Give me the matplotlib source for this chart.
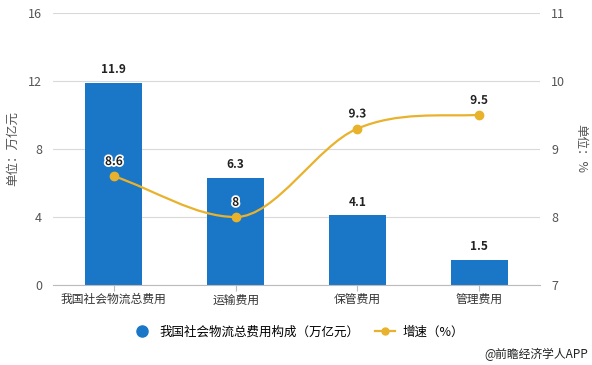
import numpy as np
import matplotlib.pyplot as plt
from matplotlib.path import Path
from matplotlib.patches import PathPatch
from matplotlib.lines import Line2D
import matplotlib.patheffects as pe

plt.rcParams['font.family'] = ['Noto Sans CJK SC', 'DejaVu Sans']

# 数据
categories = ['我国社会物流总费用', '运输费用', '保管费用', '管理费用']
cost = [11.9, 6.3, 4.1, 1.5]
growth = [8.6, 8.0, 9.3, 9.5]
growth_labels = ['8.6', '8', '9.3', '9.5']

bar_color = '#1a76c6'
line_color = '#e9b22c'
grid_color = '#d9d9d9'
tick_color = '#555555'

fig = plt.figure(figsize=(5.92, 3.65), dpi=100)
ax = fig.add_axes([53 / 592, 1 - 285 / 365, 487 / 592, 272 / 365])
ax2 = ax.twinx()

x = np.arange(len(categories))
ax.bar(x, cost, width=0.47, color=bar_color, zorder=2)
for xi, v in zip(x, cost):
    ax.text(xi, v + 0.4, f'{v}', ha='center', va='bottom', fontsize=8.5,
            fontweight='bold', color='#222222')

ax.set_xlim(-0.5, 3.5)
ax.set_ylim(0, 16)
ax.set_yticks([0, 4, 8, 12, 16])
ax.grid(axis='y', color=grid_color, linewidth=0.8, zorder=0)
ax.set_axisbelow(True)
ax.set_xticks(x)
ax.set_xticklabels(categories, fontsize=8.5, color='#333333')
ax.tick_params(axis='x', length=4, color='#bbbbbb', pad=2)
ax.tick_params(axis='y', length=0, labelsize=9, labelcolor=tick_color, pad=8)
for s in ['top', 'right', 'left']:
    ax.spines[s].set_visible(False)
ax.spines['bottom'].set_color('#bbbbbb')
ax.set_ylabel('单位：万亿元', fontsize=9, color=tick_color, labelpad=6)

ax2.set_ylim(7, 11)
ax2.set_yticks([7, 8, 9, 10, 11])
ax2.tick_params(axis='y', length=0, labelsize=9, labelcolor=tick_color, pad=8)
for s in ax2.spines.values():
    s.set_visible(False)
ax2.set_ylabel('单位：%', fontsize=9, color=tick_color, rotation=270, labelpad=16)

# 平滑曲线（三次贝塞尔，切线取相邻点差）
xs = x.astype(float)
ys = np.array(growth)
n = len(xs)
m = np.zeros(n)
for i in range(n):
    if i == 0:
        m[i] = (ys[1] - ys[0]) / (xs[1] - xs[0])
    elif i == n - 1:
        m[i] = 0.3 * (ys[i] - ys[i - 1]) / (xs[i] - xs[i - 1])
    elif (ys[i] - ys[i - 1]) * (ys[i + 1] - ys[i]) <= 0:
        m[i] = 0.0
    else:
        m[i] = (ys[i + 1] - ys[i - 1]) / (xs[i + 1] - xs[i - 1])
verts = [(xs[0], ys[0])]
codes = [Path.MOVETO]
for i in range(n - 1):
    h = (xs[i + 1] - xs[i]) / 3
    verts += [(xs[i] + h, ys[i] + m[i] * h),
              (xs[i + 1] - h, ys[i + 1] - m[i + 1] * h),
              (xs[i + 1], ys[i + 1])]
    codes += [Path.CURVE4] * 3
ax2.add_patch(PathPatch(Path(verts, codes), fill=False, edgecolor=line_color,
                        linewidth=1.6, zorder=3))
ax2.plot(xs, ys, 'o', color=line_color, markersize=6, zorder=4)
for xi, v, lab in zip(xs, ys, growth_labels):
    ax2.text(xi, v + 0.12, lab, ha='center', va='bottom', fontsize=8.5,
             fontweight='bold', color='#222222', zorder=5,
             path_effects=[pe.withStroke(linewidth=2.5, foreground='white')])

# 图例
handles = [
    Line2D([], [], marker='o', linestyle='none', color=bar_color, markersize=8),
    Line2D([], [], marker='o', linestyle='-', color=line_color, markersize=5, linewidth=1.6),
]
fig.legend(handles, ['我国社会物流总费用构成（万亿元）', '增速（%）'],
           loc='center', bbox_to_anchor=(298 / 592, 1 - 332 / 365), ncol=2,
           frameon=False, fontsize=9, handlelength=1.6, columnspacing=1.2,
           handletextpad=0.6)

fig.text(588 / 592, 1 - 354 / 365, '@前瞻经济学人APP', ha='right', va='center',
         fontsize=8.5, color='#222222')

fig.savefig('out.png', dpi=100)
